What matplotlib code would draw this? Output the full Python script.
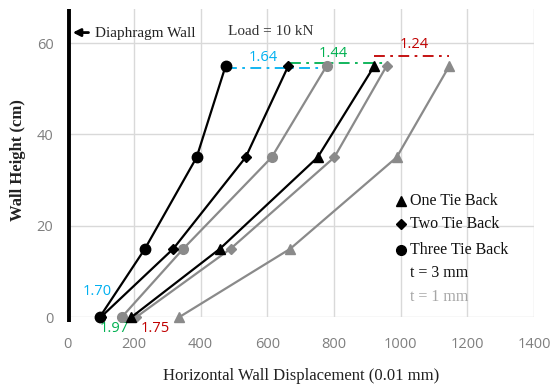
import matplotlib.pyplot as plt

# wall heights where displacement was measured (cm)
heights = [0, 15, 35, 55]

# horizontal displacement (0.01 mm), t = 3 mm wall
one_tie_3 = [192, 458, 751, 921]
two_tie_3 = [100, 318, 535, 663]
three_tie_3 = [97, 233, 388, 475]

# horizontal displacement (0.01 mm), t = 1 mm wall
one_tie_1 = [335, 669, 988, 1146]
two_tie_1 = [206, 490, 801, 958]
three_tie_1 = [163, 348, 613, 778]

# ratio labels (t=1 / t=3) at top and at base
top_ratios = ['1.64', '1.44', '1.24']
base_ratios = ['1.70', '1.97', '1.75']

xticks = [0, 200, 400, 600, 800, 1000, 1200, 1400]
yticks = [0, 20, 40, 60]

gray = '#8a8a8a'
tick_gray = '#7f7f7f'
cyan = '#00b0f0'
green = '#00b050'
red = '#c00000'
serif = 'Liberation Serif'

fig = plt.figure(figsize=(5.57, 3.91), dpi=100)
ax = fig.add_axes([0.1208, 0.1885, 0.8379, 0.789])

ax.set_xlim(0, 1400)
ax.set_ylim(0, 67.5)
ax.set_xticks(xticks)
ax.set_yticks(yticks)
ax.grid(True, color='#d9d9d9', lw=1)
ax.set_axisbelow(True)
for s in ax.spines.values():
    s.set_visible(False)
ax.tick_params(length=0, labelsize=10.5, labelcolor=tick_gray)
ax.tick_params(axis='x', pad=14)
ax.tick_params(axis='y', pad=10)
for lab in ax.get_xticklabels() + ax.get_yticklabels():
    lab.set_family('Open Sans')

mk = dict(clip_on=False, zorder=4, lw=1.6)
ax.plot(one_tie_1, heights, color=gray, marker='^', ms=7, **mk)
ax.plot(two_tie_1, heights, color=gray, marker='D', ms=5.5, **mk)
ax.plot(three_tie_1, heights, color=gray, marker='o', ms=7, **mk)
ax.plot(one_tie_3, heights, color='black', marker='^', ms=7, **mk)
ax.plot(two_tie_3, heights, color='black', marker='D', ms=5, **mk)
ax.plot(three_tie_3, heights, color='black', marker='o', ms=7.5, **mk)

# dash-dot connectors between the two wall thicknesses at the top
ax.plot([three_tie_3[-1], three_tie_1[-1]], [54.5, 54.5], color=cyan, ls=(0, (6, 3, 1.5, 3)), lw=1.3, zorder=3)
ax.plot([two_tie_3[-1] + 5, two_tie_1[-1]], [55.6, 55.6], color=green, ls=(0, (6, 3, 1.5, 3)), lw=1.3, zorder=3)
ax.plot([one_tie_3[-1], one_tie_1[-1]], [57.1, 57.1], color=red, ls=(0, (6, 3, 1.5, 3)), lw=1.3, zorder=3)

rfont = dict(fontsize=10.5, ha='center', va='center', family='Open Sans', clip_on=False)
ax.text(588, 56.8, top_ratios[0], color=cyan, **rfont)
ax.text(797, 57.7, top_ratios[1], color=green, **rfont)
ax.text(1042, 59.6, top_ratios[2], color=red, **rfont)

ax.text(90, 5.6, base_ratios[0], color=cyan, **rfont)
ax.text(140, -2.4, base_ratios[1], color=green, **rfont)
ax.text(263, -2.4, base_ratios[2], color=red, **rfont)

# diaphragm wall
ax.plot([4, 4], [-1, 67.5], color='black', lw=2.8, clip_on=False, zorder=5, solid_capstyle='butt')
ax.annotate('', xy=(8, 62.3), xytext=(72, 62.3),
            arrowprops=dict(arrowstyle='-|>', color='black', lw=2, mutation_scale=11))
ax.text(82, 62.0, 'Diaphragm Wall', family=serif, fontsize=11, va='center', color='#222222')
ax.text(482, 62.6, 'Load = 10 kN', family=serif, fontsize=11, va='center', color='#333333')

# legend drawn as markers and text
leg_x = 1000
ax.plot([leg_x], [25.5], marker='^', color='black', ms=6.5, ls='none')
ax.plot([leg_x], [20.5], marker='D', color='black', ms=5, ls='none')
ax.plot([leg_x], [14.8], marker='o', color='black', ms=7, ls='none')
for yv, txt in [(25.5, 'One Tie Back'), (20.5, 'Two Tie Back'), (14.8, 'Three Tie Back')]:
    ax.text(leg_x + 27, yv, txt, family=serif, fontsize=11.5, va='center', color='#111111')
ax.text(leg_x + 27, 9.6, 't = 3 mm', family=serif, fontsize=11.5, va='center', color='#111111')
ax.text(leg_x + 27, 4.4, 't = 1 mm', family=serif, fontsize=11.5, va='center', color='#a6a6a6')

ax.set_xlabel('Horizontal Wall Displacement (0.01 mm)', family=serif, fontsize=12, labelpad=12, color='#222222')
fig.text(18 / 557, 1 - 160 / 391, 'Wall Height (cm)', family=serif, fontsize=12, fontweight='bold',
         rotation=90, ha='center', va='center', color='#222222')

fig.savefig('out.png', dpi=100)
